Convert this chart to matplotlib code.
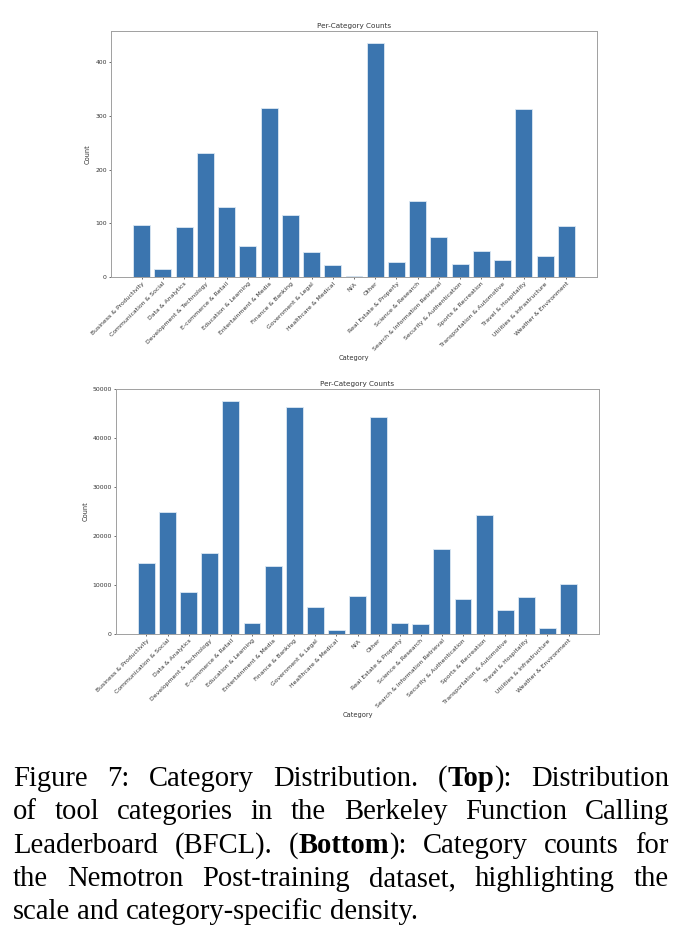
import matplotlib
matplotlib.use("Agg")
import matplotlib.pyplot as plt

# ── data ────────────────────────────────────────────────────
categories = [
    "Business & Productivity", "Communication & Social", "Data & Analytics",
    "Development & Technology", "E-commerce & Retail", "Education & Learning",
    "Entertainment & Media", "Finance & Banking", "Government & Legal",
    "Healthcare & Medical", "N/A", "Other", "Real Estate & Property",
    "Science & Research", "Search & Information Retrieval",
    "Security & Authentication", "Sports & Recreation",
    "Transportation & Automotive", "Travel & Hospitality",
    "Utilities & Infrastructure", "Weather & Environment",
]
bfcl_counts = [96, 15, 93, 230, 130, 57, 315, 115, 46, 22, 2, 436, 28,
               141, 75, 24, 48, 31, 313, 39, 95]
nemotron_counts = [14500, 25000, 8600, 16600, 47700, 2300, 13800, 46400,
                   5600, 800, 7800, 44400, 2300, 2100, 17300, 7100, 24400,
                   4900, 7500, 1200, 10200]

# caption: each line is a list of words, each word a list of (text, weight) runs
N, B = "normal", "bold"
caption_lines = [
    [[("Figure", N)], [("7:", N)], [("Category", N)], [("Distribution.", N)],
     [("(", N), ("Top", B), ("):", N)], [("Distribution", N)]],
    [[(w, N)] for w in "of tool categories in the Berkeley Function Calling".split()],
    [[("Leaderboard", N)], [("(BFCL).", N)], [("(", N), ("Bottom", B), ("):", N)],
     [("Category", N)], [("counts", N)], [("for", N)]],
    [[(w, N)] for w in "the Nemotron Post-training dataset, highlighting the".split()],
    [[(w, N)] for w in "scale and category-specific density.".split()],
]

BAR = '#3b75af'
EDGE = '#dce8f3'
SPINE = '#a0a0a0'
TXT = '#333333'

W, H = 686, 949
fig = plt.figure(figsize=(W / 100, H / 100), dpi=100)


def draw(ax, counts):
    ax.bar(categories, counts, color=BAR, edgecolor=EDGE, linewidth=0.6)
    ax.set_title("Per-Category Counts", fontsize=5.2, color=TXT, pad=2.5)
    ax.set_xlabel("Category", fontsize=4.8, color=TXT, labelpad=2)
    ax.set_ylabel("Count", fontsize=4.8, color=TXT, labelpad=3)
    ax.tick_params(labelsize=4.4, colors=TXT, length=1.5, width=0.5, pad=1.5)
    for s in ax.spines.values():
        s.set_color(SPINE)
        s.set_linewidth(0.7)
    plt.setp(ax.get_xticklabels(), rotation=45, ha='right',
             rotation_mode='anchor')


# axes boxes in pixels: left, top, right, bottom
def box(l, t, r, b):
    return [l / W, 1 - b / H, (r - l) / W, (b - t) / H]


ax1 = fig.add_axes(box(111, 31, 597, 277))
draw(ax1, bfcl_counts)
ax2 = fig.add_axes(box(116, 389, 599, 634))
draw(ax2, nemotron_counts)

# ── caption, justified like the paper ───────────────────────
fig.canvas.draw()
renderer = fig.canvas.get_renderer()
X0, X1 = 13, 669
FS = 20.6
Y_FIRST = 786
LINE = 33.3


def measure(s, weight):
    t = fig.text(0, 0, s, fontsize=FS, family='Liberation Serif',
                 weight=weight)
    w = t.get_window_extent(renderer).width
    t.remove()
    return w


space = measure("a a", N) - 2 * measure("a", N)
for i, words in enumerate(caption_lines):
    widths = [sum(measure(p, w) for p, w in wd) for wd in words]
    last = i == len(caption_lines) - 1
    gap = space if last else (X1 - X0 - sum(widths)) / (len(words) - 1)
    y = 1 - (Y_FIRST + i * LINE) / H
    x = X0
    for wd, wwidth in zip(words, widths):
        xx = x
        for p, weight in wd:
            fig.text(xx / W, y, p, fontsize=FS, family='Liberation Serif',
                     weight=weight, va='baseline', ha='left', color='black')
            xx += measure(p, weight)
        x += wwidth + gap

fig.savefig("out.png", dpi=100)
